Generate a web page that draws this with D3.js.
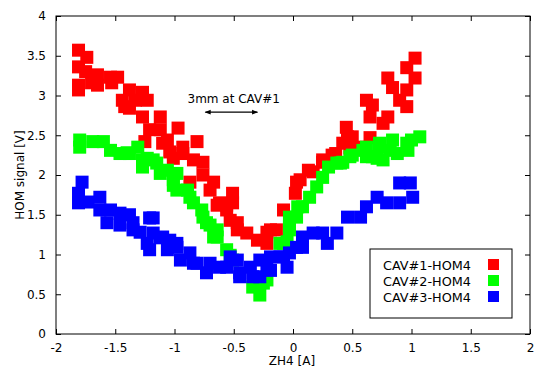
<!DOCTYPE html>
<html>
<head>
<meta charset="utf-8">
<script src="https://cdn.jsdelivr.net/npm/d3@7/dist/d3.min.js"></script>
<style>
  body { margin: 0; background: #fff; }
  svg text { font-family: "DejaVu Sans", sans-serif; font-size: 12px; fill: #000; }
</style>
</head>
<body>
<div id="chart"></div>
<script>
// series names and colours
var seriesNames = ["CAV#1-HOM4", "CAV#2-HOM4", "CAV#3-HOM4"];
var seriesColors = ["#ff0000", "#00ff00", "#0000ff"];

// CAV#1 (red) [ZH4, signal]
var cav1 = [
  [-1.81, 3.57], [-1.74, 3.48], [-1.81, 3.36], [-1.75, 3.30], [-1.65, 3.26], [-1.54, 3.23],
  [-1.48, 3.23], [-1.81, 3.13], [-1.81, 3.07], [-1.70, 3.16], [-1.65, 3.13], [-1.53, 3.16],
  [-1.38, 3.07], [-1.27, 3.04], [-1.44, 2.94], [-1.33, 2.94], [-1.23, 2.94], [-1.42, 2.86],
  [-1.38, 2.84], [-1.27, 2.73], [-1.12, 2.73], [-1.21, 2.57], [-1.12, 2.57], [-0.97, 2.59],
  [-1.25, 2.42], [-1.06, 2.44], [-1.04, 2.29], [-0.93, 2.35], [-1.01, 2.21], [-1.10, 2.40],
  [-0.81, 2.42], [-0.84, 2.19], [-0.93, 2.27], [-0.76, 2.16], [-0.87, 1.91], [-0.76, 2.00],
  [-0.67, 1.91], [-0.70, 1.81], [-0.64, 1.62], [-0.56, 1.62], [-0.51, 1.77], [-0.53, 1.43],
  [-0.62, 1.65], [-0.51, 1.65], [-0.56, 1.56], [-0.47, 1.40], [-0.39, 1.27], [-0.47, 1.31],
  [-0.30, 1.18], [-0.22, 1.28], [-0.22, 1.14], [-0.19, 1.31], [-0.14, 1.31], [-0.08, 1.56],
  [0.02, 1.77], [0.03, 1.91], [0.06, 1.94], [0.13, 2.06], [0.17, 2.04], [0.25, 2.16],
  [0.25, 2.19], [0.33, 2.25], [0.36, 2.27], [0.42, 2.40], [0.48, 2.34], [0.45, 2.60],
  [0.46, 2.48], [0.50, 2.48], [0.57, 2.35], [0.65, 2.47], [0.62, 2.94], [0.67, 2.88],
  [0.65, 2.73], [0.76, 2.65], [0.80, 2.73], [0.80, 3.22], [0.84, 3.10], [0.90, 2.94],
  [0.96, 2.86], [0.96, 3.07], [0.96, 3.35], [1.03, 3.22], [1.03, 3.47]
];

// CAV#2 (green)
var cav2 = [
  [-1.80, 2.44], [-1.69, 2.42], [-1.60, 2.42], [-1.80, 2.35], [-1.54, 2.31], [-1.46, 2.27],
  [-1.38, 2.27], [-1.31, 2.35], [-1.27, 2.19], [-1.15, 2.15], [-1.06, 2.06], [-0.98, 2.02],
  [-1.40, 2.28], [-1.23, 2.21], [-1.18, 2.19], [-1.27, 2.10], [-1.12, 2.02], [-1.01, 1.94],
  [-1.01, 1.87], [-0.98, 1.81], [-0.89, 1.81], [-0.87, 1.72], [-0.84, 1.65], [-0.77, 1.56],
  [-0.76, 1.47], [-0.73, 1.40], [-0.70, 1.37], [-0.64, 1.31], [-0.67, 1.22], [-0.64, 1.22],
  [-0.56, 1.06], [-0.53, 0.99], [-0.51, 0.93], [-0.34, 0.59], [-0.28, 0.49], [-0.25, 0.64],
  [-0.22, 0.68], [-0.11, 1.14], [-0.05, 1.16], [-0.03, 1.35], [-0.03, 1.47], [0.04, 1.60],
  [-0.08, 1.14], [-0.03, 1.31], [0.03, 1.47], [0.08, 1.60], [0.14, 1.72], [0.20, 1.85],
  [0.25, 1.97], [0.30, 2.10], [0.37, 2.15], [0.40, 2.15], [0.42, 2.16], [0.48, 2.23],
  [0.50, 2.25], [0.59, 2.31], [0.62, 2.35], [0.62, 2.23], [0.67, 2.23], [0.71, 2.21],
  [0.73, 2.35], [0.73, 2.40], [0.76, 2.19], [0.82, 2.31], [0.84, 2.44], [0.88, 2.27],
  [0.96, 2.40], [0.97, 2.31], [1.00, 2.44], [1.07, 2.48]
];

// CAV#3 (blue)
var cav3 = [
  [-1.78, 1.91], [-1.81, 1.77], [-1.81, 1.65], [-1.73, 1.66], [-1.63, 1.72], [-1.63, 1.56],
  [-1.54, 1.56], [-1.57, 1.40], [-1.46, 1.52], [-1.38, 1.50], [-1.46, 1.37], [-1.35, 1.40],
  [-1.18, 1.46], [-1.21, 1.46], [-1.29, 1.28], [-1.35, 1.31], [-1.18, 1.27], [-1.23, 1.14],
  [-1.21, 1.06], [-1.12, 1.21], [-1.10, 1.22], [-1.04, 1.18], [-1.06, 1.06], [-0.98, 1.09],
  [-0.98, 1.14], [-0.95, 0.93], [-0.87, 1.02], [-0.84, 0.89], [-0.81, 0.89], [-0.73, 0.77],
  [-0.70, 0.89], [-0.62, 0.84], [-0.56, 0.84], [-0.53, 0.97], [-0.47, 0.93], [-0.45, 0.77],
  [-0.45, 0.72], [-0.36, 0.84], [-0.34, 0.72], [-0.28, 0.72], [-0.22, 0.84], [-0.19, 0.97],
  [-0.28, 0.93], [-0.19, 0.80], [-0.11, 0.97], [-0.08, 0.97], [-0.05, 0.84], [-0.03, 1.02],
  [0.03, 1.09], [0.08, 1.09], [0.08, 1.22], [0.17, 1.27], [0.25, 1.27], [0.29, 1.14],
  [0.37, 1.27], [0.46, 1.47], [0.57, 1.47], [0.62, 1.60], [0.71, 1.72], [0.79, 1.65],
  [0.90, 1.90], [0.99, 1.90], [1.01, 1.72], [0.90, 1.65]
];

var xTicks = [-2, -1.5, -1, -0.5, 0, 0.5, 1, 1.5, 2];
var yTicks = [0, 0.5, 1, 1.5, 2, 2.5, 3, 3.5, 4];

var W = 537, H = 367;
var margin = { top: 16, right: 7, bottom: 33, left: 56 },
  width = W - margin.left - margin.right,
  height = H - margin.top - margin.bottom;

var svg = d3.select("#chart").append("svg")
  .attr("width", W).attr("height", H);
var g = svg.append("g")
  .attr("transform", "translate(" + margin.left + "," + margin.top + ")");

var x = d3.scaleLinear().domain([-2, 2]).range([0, width]);
var y = d3.scaleLinear().domain([0, 4]).range([height, 0]);

// data points
var box = 13;
[cav1, cav2, cav3].forEach(function (data, i) {
  g.append("g").selectAll("rect")
    .data(data)
    .enter()
    .append("rect")
    .attr("x", function (d) { return x(d[0]) - box / 2; })
    .attr("y", function (d) { return y(d[1]) - box / 2; })
    .attr("width", box)
    .attr("height", box)
    .style("fill", seriesColors[i]);
});

// axes, ticks pointing inward on all sides
function fmt(v) { return String(v); }
var axBottom = g.append("g").attr("transform", "translate(0," + height + ")")
  .call(d3.axisBottom(x).tickValues(xTicks).tickFormat(fmt).tickSizeInner(-5).tickSizeOuter(0).tickPadding(9));
var axTop = g.append("g")
  .call(d3.axisTop(x).tickValues(xTicks).tickFormat("").tickSizeInner(-5).tickSizeOuter(0));
var axLeft = g.append("g")
  .call(d3.axisLeft(y).tickValues(yTicks).tickFormat(fmt).tickSizeInner(-5).tickSizeOuter(0).tickPadding(10));
var axRight = g.append("g").attr("transform", "translate(" + width + ",0)")
  .call(d3.axisRight(y).tickValues(yTicks).tickFormat("").tickSizeInner(-5).tickSizeOuter(0));
[axBottom, axTop, axLeft, axRight].forEach(function (a) {
  a.select(".domain").remove();
  a.selectAll("line").attr("stroke", "#000");
});

// frame
g.append("rect")
  .attr("width", width).attr("height", height)
  .style("fill", "none").style("stroke", "#000").style("stroke-width", 1);

// axis labels
svg.append("text")
  .attr("x", margin.left + width / 2 - 1)
  .attr("y", H - 2)
  .style("text-anchor", "middle")
  .text("ZH4 [A]");
svg.append("text")
  .attr("transform", "translate(24," + (margin.top + height / 2) + ") rotate(-90)")
  .style("text-anchor", "middle")
  .text("HOM signal [V]");

// annotation
var defs = svg.append("defs");
defs.append("marker")
  .attr("id", "arr")
  .attr("viewBox", "0 0 10 10")
  .attr("refX", 9).attr("refY", 5)
  .attr("markerWidth", 8).attr("markerHeight", 6)
  .attr("markerUnits", "userSpaceOnUse")
  .attr("orient", "auto-start-reverse")
  .append("path").attr("d", "M0,1 L10,5 L0,9 Z").style("fill", "#000");
g.append("line")
  .attr("x1", x(-0.74)).attr("x2", x(-0.30))
  .attr("y1", y(2.79)).attr("y2", y(2.79))
  .attr("stroke", "#000").attr("stroke-width", 1.2)
  .attr("marker-start", "url(#arr)").attr("marker-end", "url(#arr)");
g.append("text")
  .attr("x", x(-0.50)).attr("y", y(2.95) + 4)
  .style("text-anchor", "middle")
  .text("3mm at CAV#1");

// legend
var lg = svg.append("g").attr("transform", "translate(370,249)");
lg.append("rect").attr("width", 142).attr("height", 69)
  .style("fill", "#fff").style("stroke", "#000");
seriesNames.forEach(function (name, i) {
  lg.append("text").attr("x", 13).attr("y", 21 + i * 16)
    .style("font-size", "12.8px").text(name);
  lg.append("rect").attr("x", 118).attr("y", 10 + i * 16)
    .attr("width", 11).attr("height", 11).style("fill", seriesColors[i]);
});
</script>
</body>
</html>
